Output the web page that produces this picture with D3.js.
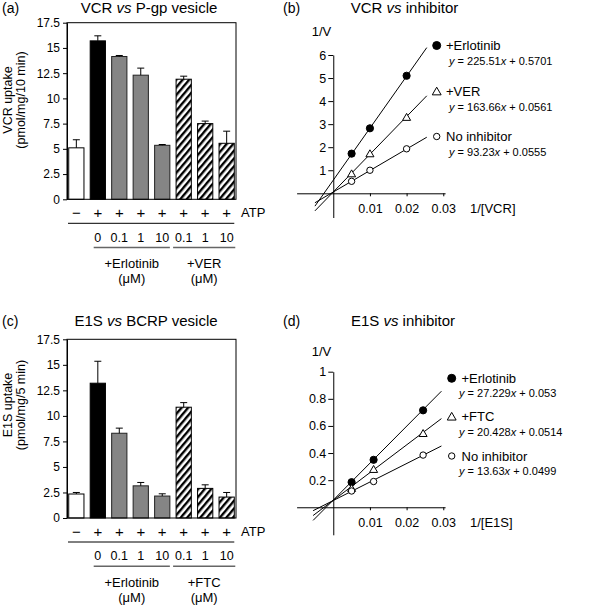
<!DOCTYPE html>
<html><head><meta charset="utf-8">
<script src="https://cdn.jsdelivr.net/npm/d3@7"></script>
<style>body{margin:0;background:#fff} svg{font-family:"Liberation Sans",Arial,sans-serif}</style>
</head><body><svg id="c" width="600" height="605"></svg>
<script>
// ---------- data ----------
const barCategories = ["ctrl","erl0","erl0.1","erl1","erl10","inh0.1","inh1","inh10"];
const atpSigns = ["−","+","+","+","+","+","+","+"];
const concLabels = ["","0","0.1","1","10","0.1","1","10"];
const barFills = ["white","black","gray","gray","gray","hatch","hatch","hatch"];
const yTicksBar = [0,2.5,5,7.5,10,12.5,15,17.5];

const vcrUptake = [5.1, 15.7, 14.15, 12.3, 5.35, 11.9, 7.5, 5.55];
const vcrError  = [0.8, 0.5, 0.1, 0.7, 0.08, 0.3, 0.25, 1.2];
const e1sUptake = [2.35, 13.2, 8.3, 3.15, 2.15, 10.85, 2.9, 2.05];
const e1sError  = [0.15, 2.15, 0.5, 0.33, 0.22, 0.45, 0.35, 0.45];

const vcrInvConc = [0.005, 0.01, 0.02];
const vcrErlotinib = [1.72, 2.82, 5.1];
const vcrVER = [0.85, 1.72, 3.3];
const vcrNone = [0.52, 1.0, 1.93];
const vcrSlopes = [225.51, 163.66, 93.23];
const vcrIntercepts = [0.5701, 0.0561, 0.0555];
const vcrEquations = ["225.51", "0.5701", "163.66", "0.0561", "93.23", "0.0555"];

const e1sInvConc = [0.005, 0.011, 0.0245];
const e1sErlotinib = [0.185, 0.35, 0.715];
const e1sFTC = [0.14, 0.28, 0.545];
const e1sNone = [0.12, 0.19, 0.385];
const e1sSlopes = [27.229, 20.428, 13.63];
const e1sIntercepts = [0.053, 0.0514, 0.0499];
const e1sEquations = ["27.229", "0.053", "20.428", "0.0514", "13.63", "0.0499"];

const xTicksLB = [0.01, 0.02, 0.03];
const vcrYTicks = [1,2,3,4,5,6];
const e1sYTicks = [0.2,0.4,0.6,0.8,1];

// ---------- drawing ----------
const svg = d3.select("#c");
const FONT = "'Liberation Sans', Arial, sans-serif";
const defs = svg.append("defs");
const pat = defs.append("pattern").attr("id","hatch").attr("patternUnits","userSpaceOnUse")
  .attr("width",5).attr("height",5).attr("patternTransform","rotate(40)");
pat.append("rect").attr("width",5).attr("height",5).attr("fill","#fff");
pat.append("rect").attr("width",2.4).attr("height",5).attr("fill","#000");

function fillFor(f){ return f==="hatch" ? "url(#hatch)" : (f==="gray" ? "#858585" : (f==="black"?"#000":"#fff")); }

function txt(g, x, y, s, size, anchor){
  return g.append("text").attr("x",x).attr("y",y).attr("font-size",size)
    .attr("text-anchor",anchor||"start").attr("fill","#000").text(s);
}

function barPanel(c){
  const g = svg.append("g");
  const x = d3.scaleBand().domain(barCategories).range([c.left,c.right]).paddingInner(0.29).paddingOuter(0.08);
  const y = d3.scaleLinear().domain([0,17.5]).range([c.bottom,c.top]);
  const bw = x.bandwidth();
  g.selectAll("rect.bar").data(c.values).join("rect").attr("class","bar")
    .attr("x",(d,i)=>x(barCategories[i])).attr("width",bw)
    .attr("y",d=>y(d)).attr("height",d=>y(0)-y(d))
    .attr("fill",(d,i)=>fillFor(barFills[i]))
    .attr("stroke",(d,i)=>barFills[i]==="gray"?"#222":"#000").attr("stroke-width",1);
  // error bars
  const eg = g.append("g").attr("stroke","#000").attr("stroke-width",1);
  c.values.forEach((v,i)=>{
    const cx = x(barCategories[i]) + bw/2;
    eg.append("line").attr("x1",cx).attr("x2",cx).attr("y1",y(v)).attr("y2",y(v+c.errors[i]));
    eg.append("line").attr("x1",cx-3.5).attr("x2",cx+3.5).attr("y1",y(v+c.errors[i])).attr("y2",y(v+c.errors[i]));
  });
  // frame
  g.append("rect").attr("x",c.left).attr("y",c.top).attr("width",c.right-c.left).attr("height",c.bottom-c.top)
    .attr("fill","none").attr("stroke","#000").attr("stroke-width",1);
  const ax = g.append("g").attr("transform",`translate(${c.left},0)`)
    .call(d3.axisLeft(y).tickValues(yTicksBar).tickFormat(d3.format("~g")).tickSize(4).tickPadding(3).tickSizeOuter(0));
  ax.attr("font-family",FONT).attr("font-size",12);
  ax.selectAll("text").attr("fill","#000");
  ax.selectAll("line,path").attr("stroke","#000");
  // ATP signs row
  atpSigns.forEach((s,i)=>{
    txt(g, x(barCategories[i])+bw/2, c.bottom+18.5, s, 15, "middle");
  });
  txt(g, c.right+5, c.bottom+18, "ATP", 13);
  g.append("line").attr("x1",c.left+1).attr("x2",x(barCategories[7])+bw).attr("y1",c.bottom+24).attr("y2",c.bottom+24).attr("stroke","#000");
  concLabels.forEach((s,i)=>{ if(s) txt(g, x(barCategories[i])+bw/2, c.bottom+42.3, s, 12.5, "middle"); });
  const e0 = x(barCategories[1])+3.5, e1 = x(barCategories[4])+bw;
  const v0 = x(barCategories[5])-3, v1 = x(barCategories[7])+bw+1;
  g.append("line").attr("x1",e0).attr("x2",e1).attr("y1",c.bottom+48.2).attr("y2",c.bottom+48.2).attr("stroke","#666").attr("stroke-width",1.5);
  g.append("line").attr("x1",v0).attr("x2",v1).attr("y1",c.bottom+48.2).attr("y2",c.bottom+48.2).attr("stroke","#666").attr("stroke-width",1.5);
  txt(g,(e0+e1)/2, c.bottom+68.5, "+Erlotinib", 13, "middle");
  txt(g,(e0+e1)/2, c.bottom+84, "(μM)", 13, "middle");
  txt(g,(v0+v1)/2, c.bottom+68.5, c.inhibitor, 13, "middle");
  txt(g,(v0+v1)/2, c.bottom+84, "(μM)", 13, "middle");
  // title and label
  txt(g, 2, c.labelY, c.label, 14);
  const t = txt(g, c.titleX, c.labelY, "", 15, "middle");
  t.append("tspan").text(c.title[0]+" ");
  t.append("tspan").attr("font-style","italic").text("vs");
  t.append("tspan").text(" "+c.title[1]);
  // y label
  const yl = g.append("text").attr("transform",`translate(12,${c.ylCenter}) rotate(-90)`).attr("text-anchor","middle").attr("font-size",12.5);
  yl.append("tspan").attr("x",0).attr("y",0).text(c.ylabel[0]);
  yl.append("tspan").attr("x",0).attr("y",13).text(c.ylabel[1]);
}

function lbPanel(c){
  const g = svg.append("g");
  const x = d3.scaleLinear().domain([-0.01,0.0305]).range([296.6,445.1]);
  const y = d3.scaleLinear().domain(c.yDomain).range(c.yRange);
  // axes
  const xa = g.append("g").attr("transform",`translate(0,${y(0)})`)
    .call(d3.axisBottom(x).tickValues(xTicksLB).tickFormat(d3.format("~g")).tickSize(3).tickPadding(8.3).tickSizeOuter(0));
  const ya = g.append("g").attr("transform",`translate(${x(0)},0)`)
    .call(d3.axisLeft(y).tickValues(c.yTicks).tickFormat(d3.format("~g")).tickSize(5).tickPadding(2).tickSizeOuter(0));
  [xa,ya].forEach(a=>{ a.attr("font-family",FONT).attr("font-size",12.5); a.selectAll("text").attr("fill","#000"); a.selectAll("line,path").attr("stroke","#000"); });
  // fitted lines
  c.series.forEach(s=>{
    const pts = c.lineX.map(v=>[v, s.slope*v + s.intercept]);
    g.append("path").attr("d", d3.line().x(d=>x(d[0])).y(d=>y(d[1]))(pts)).attr("stroke","#000").attr("stroke-width",1).attr("fill","none");
  });
  // points
  function marker(sel, type, px, py, big){
    if(type==="tri"){
      sel.append("path").attr("d", d3.symbol(d3.symbolTriangle, big?34:28)()).attr("transform",`translate(${px},${py+0.8})`)
        .attr("fill","#fff").attr("stroke","#000").attr("stroke-width",1);
    } else {
      sel.append("circle").attr("cx",px).attr("cy",py).attr("r", type==="fill" ? (big?4:3.6) : 3.2)
        .attr("fill", type==="fill"?"#000":"#fff").attr("stroke","#000").attr("stroke-width",1);
    }
  }
  c.series.forEach(s=>{
    c.xs.forEach((v,i)=> marker(g, s.marker, x(v), y(s.values[i]), false));
  });
  // legend
  c.series.forEach((s,k)=>{
    const ly = c.legY[k];
    marker(g, s.marker, c.legMX, ly, true);
    txt(g, c.legTX, ly+4.6, s.name, 13);
    const e = txt(g, c.legEX, ly+19, "", 11);
    e.append("tspan").attr("font-style","italic").text("y");
    e.append("tspan").text(" = "+s.eq[0]);
    e.append("tspan").attr("font-style","italic").text("x");
    e.append("tspan").text(" + "+s.eq[1]);
  });
  txt(g, 321.5, c.vLabelY, "1/V", 13, "middle");
  txt(g, 470, y(0)+20, c.xlabel, 13);
  txt(g, 283, c.labelY, c.label, 14);
  const t = txt(g, c.titleX, c.labelY, "", 15, "middle");
  t.append("tspan").text(c.title[0]+" ");
  t.append("tspan").attr("font-style","italic").text("vs");
  t.append("tspan").text(" "+c.title[1]);
}

barPanel({left:67,right:236,top:22.7,bottom:199.3,values:vcrUptake,errors:vcrError,inhibitor:"+VER",
  label:"(a)",labelY:13,title:["VCR","P-gp vesicle"],titleX:149,ylabel:["VCR uptake","(pmol/mg/10 min)"],ylCenter:100});
barPanel({left:67,right:236,top:339.3,bottom:518,values:e1sUptake,errors:e1sError,inhibitor:"+FTC",
  label:"(c)",labelY:326,title:["E1S","BCRP vesicle"],titleX:146,ylabel:["E1S uptake","(pmol/mg/5 min)"],ylCenter:405});

lbPanel({yDomain:[-1.05,6],yRange:[217.5,55],yTicks:vcrYTicks,xs:vcrInvConc,lineX:[-0.005,0.0255],
  series:[
    {name:"+Erlotinib",marker:"fill",values:vcrErlotinib,slope:vcrSlopes[0],intercept:vcrIntercepts[0],eq:[vcrEquations[0],vcrEquations[1]]},
    {name:"+VER",marker:"tri",values:vcrVER,slope:vcrSlopes[1],intercept:vcrIntercepts[1],eq:[vcrEquations[2],vcrEquations[3]]},
    {name:"No inhibitor",marker:"open",values:vcrNone,slope:vcrSlopes[2],intercept:vcrIntercepts[2],eq:[vcrEquations[4],vcrEquations[5]]}],
  legY:[45.5,91.5,136.5],legMX:436.7,legTX:446,legEX:449,vLabelY:36,xlabel:"1/[VCR]",label:"(b)",labelY:13,
  title:["VCR","inhibitor"],titleX:404.5});

lbPanel({yDomain:[-0.203,1],yRange:[534.8,371.7],yTicks:e1sYTicks,xs:e1sInvConc,lineX:[-0.0055,0.0295],
  series:[
    {name:"+Erlotinib",marker:"fill",values:e1sErlotinib,slope:e1sSlopes[0],intercept:e1sIntercepts[0],eq:[e1sEquations[0],e1sEquations[1]]},
    {name:"+FTC",marker:"tri",values:e1sFTC,slope:e1sSlopes[1],intercept:e1sIntercepts[1],eq:[e1sEquations[2],e1sEquations[3]]},
    {name:"No inhibitor",marker:"open",values:e1sNone,slope:e1sSlopes[2],intercept:e1sIntercepts[2],eq:[e1sEquations[4],e1sEquations[5]]}],
  legY:[378.3,416.7,456],legMX:451.7,legTX:461.5,legEX:459,vLabelY:356,xlabel:"1/[E1S]",label:"(d)",labelY:326,
  title:["E1S","inhibitor"],titleX:403});
</script></body></html>
